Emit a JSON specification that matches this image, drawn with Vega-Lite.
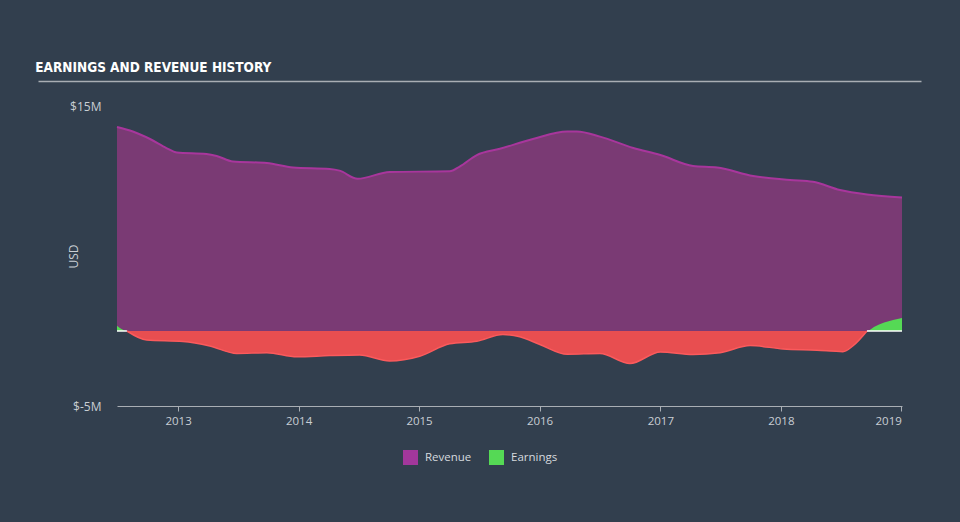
{
  "$schema": "https://vega.github.io/schema/vega-lite/v6.json",
  "autosize": "none",
  "width": 883,
  "height": 300,
  "padding": {"left": 38, "top": 106, "right": 39, "bottom": 116},
  "background": "#323f4e",
  "config": {
    "view": {"stroke": null},
    "axis": {"labelFont": "Open Sans", "labelFontSize": 11, "labelColor": "#c9ced4", "titleFont": "Open Sans", "titleColor": "#c9ced4", "grid": false},
    "legend": {"labelFont": "Open Sans", "labelFontSize": 11.5, "labelColor": "#d6dadf", "layout": {"bottom": {"anchor": "middle"}}}
  },
  "title": {
    "text": "EARNINGS AND REVENUE HISTORY",
    "anchor": "start",
    "font": "DejaVu Sans Condensed",
    "fontWeight": "bold",
    "fontSize": 13.5,
    "color": "#ffffff",
    "offset": 7
  },
  "datasets": {
    "header": [{"h": 0}, {"h": 1}],
    "revenue": [
      {"date": "2012-06-30", "value": 13.6},
      {"date": "2012-08-17", "value": 13.3},
      {"date": "2012-10-08", "value": 12.8},
      {"date": "2012-11-28", "value": 12.18},
      {"date": "2012-12-28", "value": 11.9},
      {"date": "2013-03-28", "value": 11.8},
      {"date": "2013-04-28", "value": 11.67},
      {"date": "2013-06-16", "value": 11.3},
      {"date": "2013-09-27", "value": 11.2},
      {"date": "2013-12-15", "value": 10.9},
      {"date": "2014-04-05", "value": 10.8},
      {"date": "2014-05-05", "value": 10.69},
      {"date": "2014-06-29", "value": 10.15},
      {"date": "2014-10-04", "value": 10.6},
      {"date": "2015-04-04", "value": 10.65},
      {"date": "2015-05-04", "value": 10.96},
      {"date": "2015-06-25", "value": 11.73},
      {"date": "2015-09-03", "value": 12.15},
      {"date": "2015-12-12", "value": 12.8},
      {"date": "2016-03-25", "value": 13.3},
      {"date": "2016-04-23", "value": 13.3},
      {"date": "2016-07-02", "value": 12.96},
      {"date": "2016-10-11", "value": 12.2},
      {"date": "2017-01-01", "value": 11.73},
      {"date": "2017-04-10", "value": 11.0},
      {"date": "2017-06-22", "value": 10.9},
      {"date": "2017-10-09", "value": 10.33},
      {"date": "2018-01-29", "value": 10.07},
      {"date": "2018-04-08", "value": 9.95},
      {"date": "2018-06-29", "value": 9.4},
      {"date": "2018-09-19", "value": 9.1},
      {"date": "2019-01-03", "value": 8.9}
    ],
    "loss": [
      {"date": "2012-07-30", "value": 0},
      {"date": "2012-09-28", "value": -0.6},
      {"date": "2013-01-16", "value": -0.7},
      {"date": "2013-04-07", "value": -1.0},
      {"date": "2013-06-28", "value": -1.5},
      {"date": "2013-09-27", "value": -1.45},
      {"date": "2013-12-27", "value": -1.72},
      {"date": "2014-04-05", "value": -1.64},
      {"date": "2014-07-05", "value": -1.6},
      {"date": "2014-10-04", "value": -2.0},
      {"date": "2015-01-03", "value": -1.68},
      {"date": "2015-04-04", "value": -0.85},
      {"date": "2015-06-25", "value": -0.68},
      {"date": "2015-09-12", "value": -0.24},
      {"date": "2015-11-02", "value": -0.38},
      {"date": "2016-01-02", "value": -0.9},
      {"date": "2016-03-25", "value": -1.55},
      {"date": "2016-07-02", "value": -1.5},
      {"date": "2016-10-01", "value": -2.17},
      {"date": "2017-01-01", "value": -1.4},
      {"date": "2017-04-10", "value": -1.57},
      {"date": "2017-07-01", "value": -1.45},
      {"date": "2017-09-30", "value": -0.97},
      {"date": "2018-01-08", "value": -1.2},
      {"date": "2018-04-20", "value": -1.28},
      {"date": "2018-07-08", "value": -1.38},
      {"date": "2018-08-07", "value": -1.0},
      {"date": "2018-09-19", "value": 0}
    ],
    "profit": [
      {"date": "2012-06-30", "value": 0.35, "seg": "a", "series": "Earnings"},
      {"date": "2012-07-30", "value": 0, "seg": "a", "series": "Earnings"},
      {"date": "2018-09-19", "value": 0, "seg": "b", "series": "Earnings"},
      {"date": "2018-10-10", "value": 0.27, "seg": "b", "series": "Earnings"},
      {"date": "2018-11-10", "value": 0.56, "seg": "b", "series": "Earnings"},
      {"date": "2019-01-03", "value": 0.87, "seg": "b", "series": "Earnings"}
    ]
  },
  "layer": [
    {
      "data": {"name": "header"},
      "mark": {"type": "point", "opacity": 0},
      "encoding": {
        "x": {"field": "h", "type": "quantitative", "scale": {"domain": [0, 1], "nice": false},
          "axis": {"orient": "top", "offset": 25, "ticks": false, "labels": false, "title": null, "domainColor": "#a9aeb4", "domainWidth": 1.5}}
      }
    },
    {
      "encoding": {
        "x": {"field": "date", "type": "temporal",
          "scale": {"domain": [{"year": 2012, "month": 6, "date": 30}, {"year": 2019, "month": 1, "date": 3}], "range": [79, 864], "nice": false},
          "axis": {"title": null, "format": "%Y", "tickCount": {"interval": "year", "step": 1}, "domainColor": "#a9aeb4", "tickColor": "#a9aeb4", "tickSize": 5, "labelPadding": 4, "labelFontSize": 11.5}},
        "y": {"field": "value", "type": "quantitative",
          "scale": {"domain": [-5, 15], "nice": false, "zero": false},
          "axis": {"values": [-5, 15], "labelExpr": "'$' + datum.value + 'M'", "domain": false, "ticks": false, "offset": -79, "labelPadding": 16, "labelFontSize": 12,
            "title": "USD", "titleX": -44, "titleY": 150, "titleAngle": -90, "titleAlign": "center", "titleBaseline": "middle", "titleFontWeight": "normal", "titleFontSize": 12}}
      },
      "layer": [
        {"data": {"name": "revenue"}, "mark": {"type": "area", "interpolate": "monotone", "fill": "#7a3a74"}},
        {"data": {"name": "revenue"}, "mark": {"type": "line", "interpolate": "monotone", "stroke": "#a8369c", "strokeWidth": 2}},
        {"data": {"name": "loss"}, "mark": {"type": "area", "interpolate": "monotone", "fill": "#e84e50"}},
        {"data": {"name": "loss"}, "mark": {"type": "line", "interpolate": "monotone", "stroke": "#fb5a5c", "strokeWidth": 1.5}},
        {"data": {"name": "profit"}, "mark": {"type": "area", "interpolate": "monotone"},
          "encoding": {
            "detail": {"field": "seg"},
            "fill": {"field": "series", "type": "nominal",
              "scale": {"domain": ["Revenue", "Earnings"], "range": ["#a2379b", "#55d955"]},
              "legend": {"title": null, "orient": "bottom", "direction": "horizontal", "symbolType": "square", "symbolSize": 225, "symbolOpacity": 1, "columnPadding": 16, "labelOffset": 6, "offset": 22}}
          }},
        {"data": {"name": "profit"}, "mark": {"type": "line", "stroke": "#ffffff", "strokeWidth": 1.5},
          "encoding": {"detail": {"field": "seg"}, "y": {"datum": 0}}}
      ]
    }
  ],
  "resolve": {"scale": {"x": "independent"}}
}
